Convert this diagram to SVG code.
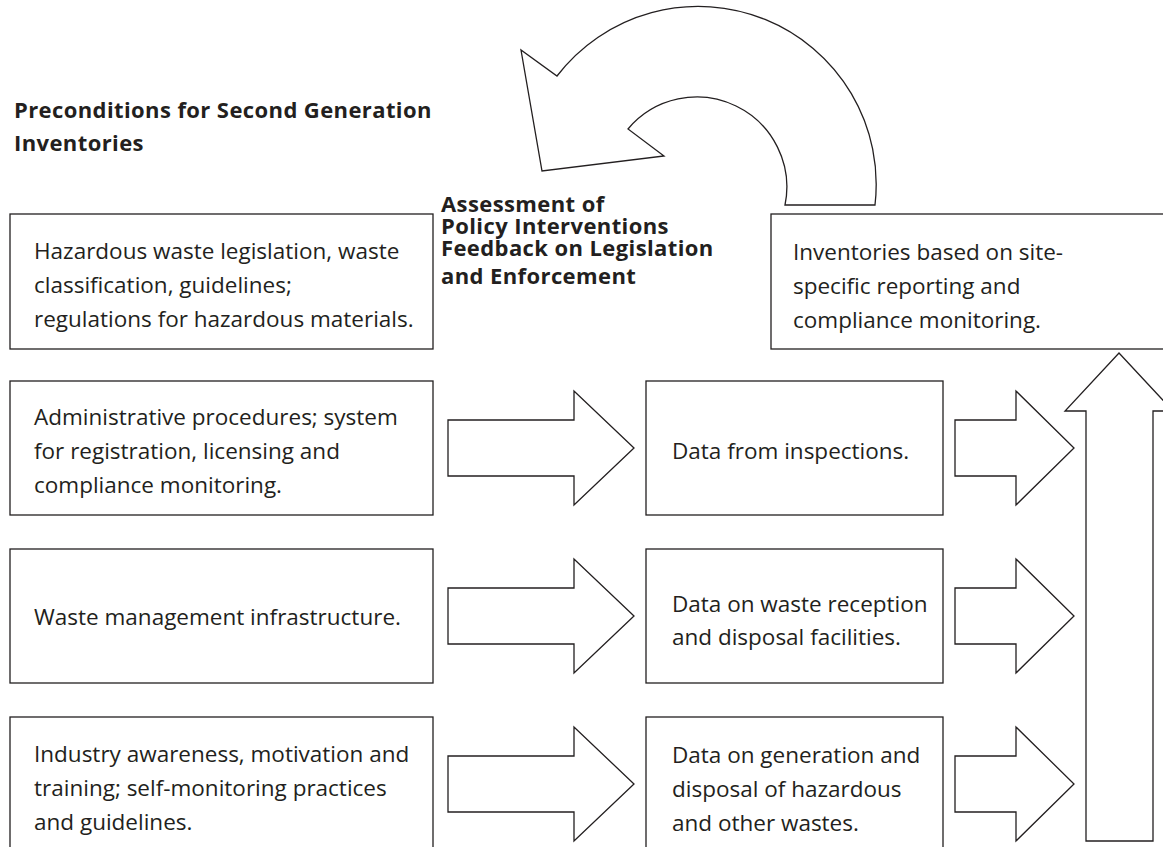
<svg xmlns="http://www.w3.org/2000/svg" width="1163" height="847" viewBox="0 0 1163 847">
<style>
.box{fill:#fff;stroke:#231f20;stroke-width:1.3}
.arr{fill:#fff;stroke:#231f20;stroke-width:1.3;stroke-linejoin:miter}
.t{font-family:"Open Sans","Liberation Sans",sans-serif;font-size:22.5px;fill:#231f20}
.b{font-family:"Open Sans","Liberation Sans",sans-serif;font-size:22px;letter-spacing:0.4px;font-weight:bold;fill:#231f20}
</style>
<rect width="1163" height="847" fill="#fff"/>
<g id="connectors">
<path id="feedback-arrow" class="arr" d="M557,76 A178,178 0 0 1 875,205 L785,205 A90,90 0 0 0 628,129 L664,156 L542,171 L521,50 Z"/>
<polygon class="arr" points="448,420 574,420 574,391 634,448 574,505 574,476 448,476"/>
<polygon class="arr" points="448,588 574,588 574,559 634,616 574,673 574,644 448,644"/>
<polygon class="arr" points="448,756 574,756 574,727 634,784 574,841 574,812 448,812"/>
<polygon class="arr" points="955,420 1016,420 1016,391 1074,448 1016,505 1016,476 955,476"/>
<polygon class="arr" points="955,588 1016,588 1016,559 1074,616 1016,673 1016,644 955,644"/>
<polygon class="arr" points="955,756 1016,756 1016,727 1074,784 1016,841 1016,812 955,812"/>
<polygon class="arr" points="1086,841 1086,411 1065,411 1119,353 1173,411 1153,411 1153,841"/>
</g>
<g id="title">
<text class="b" x="14" y="118">Preconditions for Second Generation</text>
<text class="b" x="14" y="151">Inventories</text>
</g>
<g id="feedback-labels">
<text class="b" x="441" y="212">Assessment of</text>
<text class="b" x="441" y="234">Policy Interventions</text>
<text class="b" x="441" y="256">Feedback on Legislation</text>
<text class="b" x="441" y="284">and Enforcement</text>
</g>
<g id="n-legislation">
<rect class="box" x="10" y="214" width="423" height="135"/>
<text class="t" x="34" y="259">Hazardous waste legislation, waste</text>
<text class="t" x="34" y="293">classification, guidelines;</text>
<text class="t" x="34" y="327">regulations for hazardous materials.</text>
</g>
<g id="n-admin">
<rect class="box" x="10" y="381" width="423" height="134"/>
<text class="t" x="34" y="425">Administrative procedures; system</text>
<text class="t" x="34" y="459">for registration, licensing and</text>
<text class="t" x="34" y="493">compliance monitoring.</text>
</g>
<g id="n-infra">
<rect class="box" x="10" y="549" width="423" height="134"/>
<text class="t" x="34" y="625">Waste management infrastructure.</text>
</g>
<g id="n-industry">
<rect class="box" x="10" y="717" width="423" height="140"/>
<text class="t" x="34" y="762">Industry awareness, motivation and</text>
<text class="t" x="34" y="796">training; self-monitoring practices</text>
<text class="t" x="34" y="830">and guidelines.</text>
</g>
<g id="n-inspections">
<rect class="box" x="646" y="381" width="297" height="134"/>
<text class="t" x="672" y="459">Data from inspections.</text>
</g>
<g id="n-facilities">
<rect class="box" x="646" y="549" width="297" height="134"/>
<text class="t" x="672" y="612">Data on waste reception</text>
<text class="t" x="672" y="645">and disposal facilities.</text>
</g>
<g id="n-generation">
<rect class="box" x="646" y="717" width="297" height="140"/>
<text class="t" x="672" y="763">Data on generation and</text>
<text class="t" x="672" y="797">disposal of hazardous</text>
<text class="t" x="672" y="831">and other wastes.</text>
</g>
<g id="n-inventories">
<rect class="box" x="771" y="214" width="420" height="135"/>
<text class="t" x="793" y="260">Inventories based on site-</text>
<text class="t" x="793" y="294">specific reporting and</text>
<text class="t" x="793" y="328">compliance monitoring.</text>
</g>
</svg>
